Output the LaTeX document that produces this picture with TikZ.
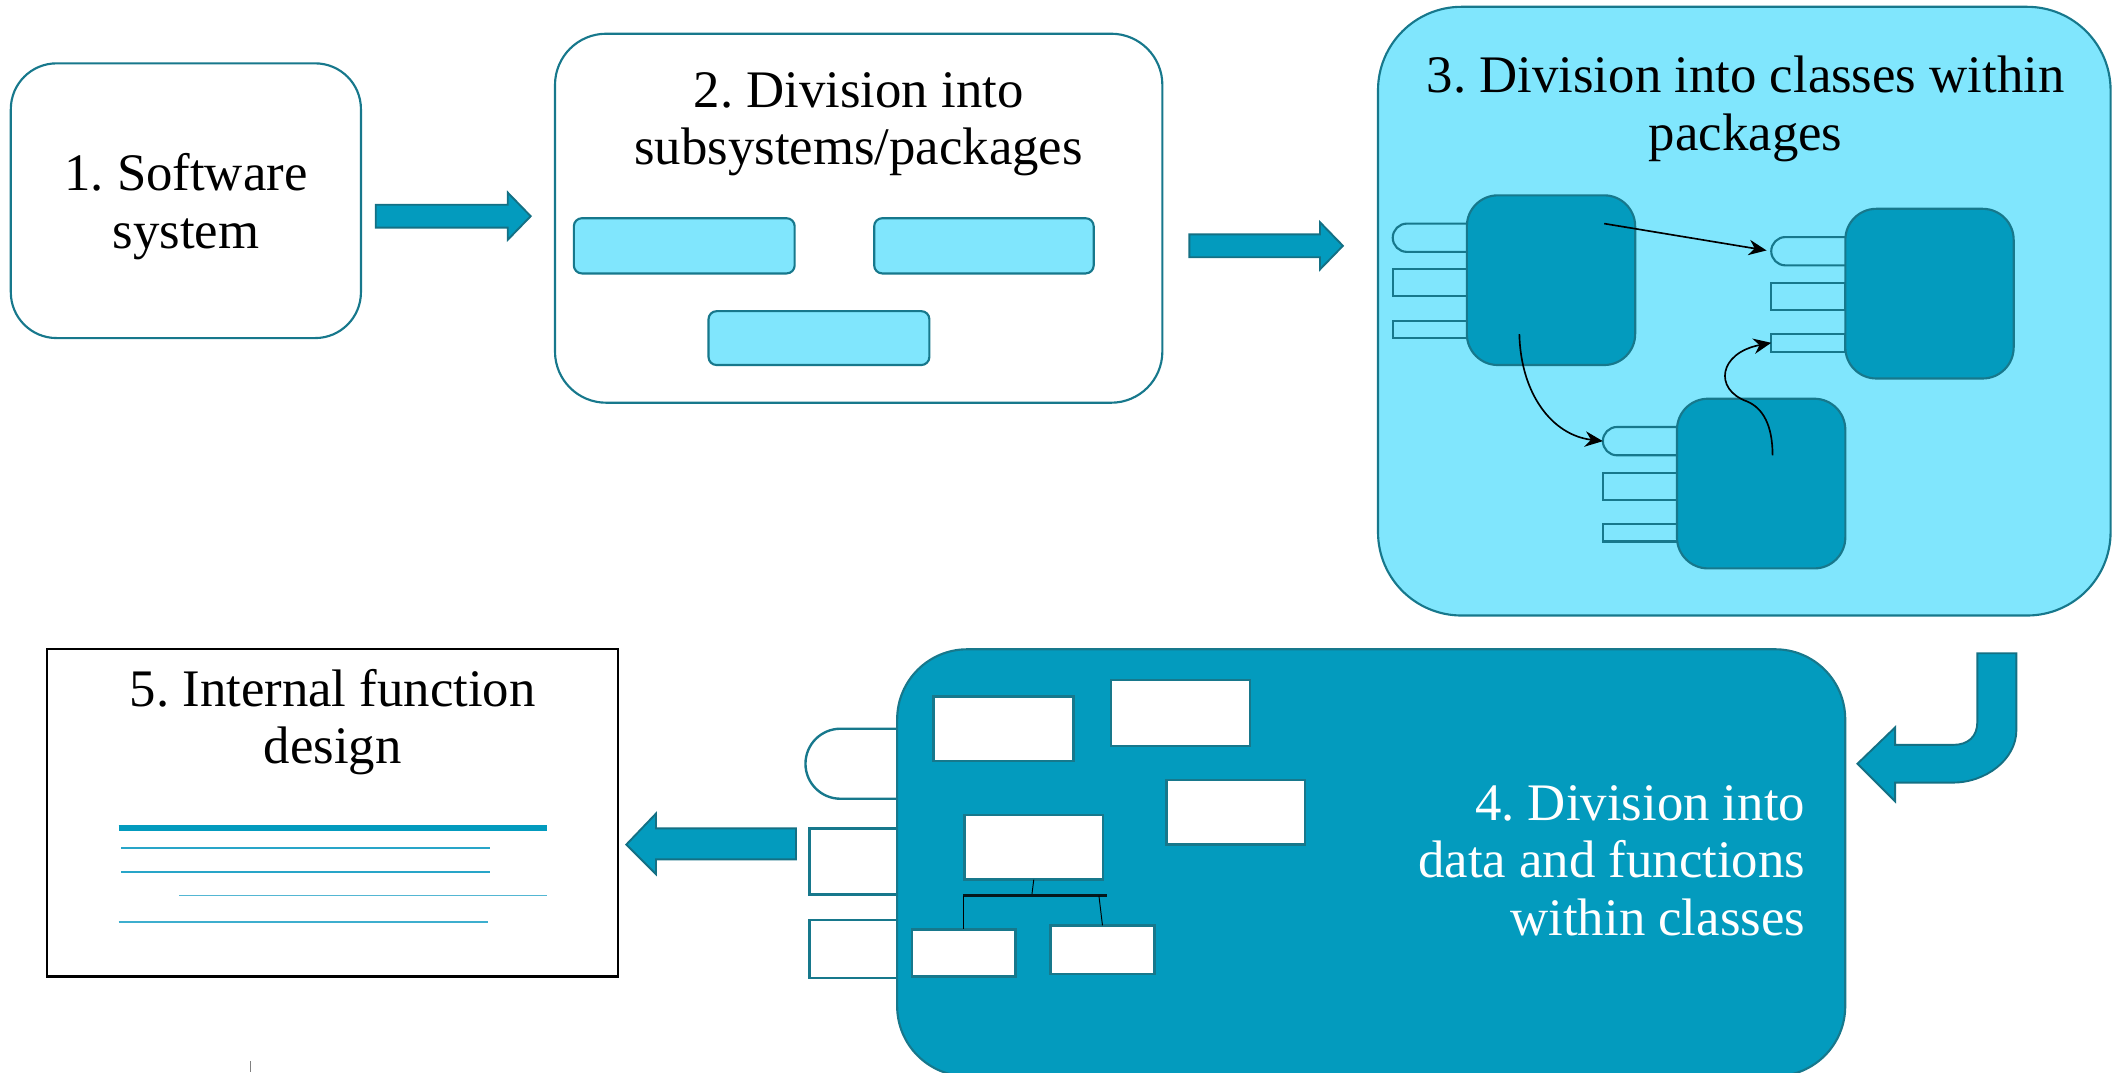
\documentclass[tikz,border=0pt]{standalone}
\usepackage{fontspec}
\setmainfont{Liberation Serif}
\usetikzlibrary{arrows.meta}
\definecolor{tealline}{RGB}{23,120,140}
\definecolor{tealfill}{RGB}{3,155,190}
\definecolor{arrowline}{RGB}{20,112,132}
\definecolor{lightfill}{RGB}{128,230,253}
\definecolor{rulecol}{RGB}{40,165,200}
% port with a round left end: [style](left,top)(right,bottom){radius}
\def\porttab[#1](#2,#3)(#4,#5)#6{\draw[#1, rounded corners=#6] (#4,#3) -- (#2,#3) -- (#2,#5) -- (#4,#5);}
\tikzset{
	box/.style={draw=tealline, line width=0.9pt, rounded corners=#1, inner sep=0pt, outer sep=0pt},
	box/.default=0.7cm,
	heading/.style={font=\fontsize{22.3}{24.2}\selectfont, align=center, inner sep=0pt},
	pkg/.style={draw=tealline, fill=lightfill, line width=0.9pt, rounded corners=0.12cm, inner sep=0pt, minimum height=0.82cm},
	cls/.style={draw=tealline, fill=tealfill, line width=0.9pt, rounded corners=0.46cm, inner sep=0pt, outer sep=0pt, minimum width=2.5cm, minimum height=2.52cm},
	port/.style={draw=tealline, line width=0.9pt},
	member/.style={draw=tealline, fill=white, line width=1pt, inner sep=0pt, outer sep=0pt},
	fatarrow/.style={fill=tealfill, draw=arrowline, line width=0.8pt, line join=miter},
	link/.style={-{Stealth[length=7.5pt,width=6.5pt]}, line width=0.7pt, black}
}
\frenchspacing
\begin{document}
\begin{tikzpicture}[x=0.02cm, y=-0.02cm]
			%%%%% START %%%%%
			\useasboundingbox (0,0) rectangle (1568,796);
			
			% 1. whole system
			\node[box=0.68cm, fill=white, minimum width=5.2cm, minimum height=4.08cm] (system) at (138,149) {};
			\node[heading] (systemtext) at (138,153.3) {1. Software\\system};
			
			\draw[fatarrow] (279,152) -- (377,152) -- (377,143) -- (394,160.5) -- (377,178) -- (377,169) -- (279,169) -- cycle;
			
			% 2. packages
			\node[box=0.76cm, fill=white, minimum width=9.02cm, minimum height=5.48cm] (packages) at (637.5,162) {};
			\node[heading] (packagestext) at (637.5,92.3) {2. Division into\\subsystems/packages};
			\node[pkg, minimum width=3.28cm] (pkgA) at (508,182.5) {};
			\node[pkg, minimum width=3.26cm] (pkgB) at (730.5,182.5) {};
			\node[pkg, minimum width=3.28cm, minimum height=0.8cm] (pkgC) at (608,251) {};
			
			\draw[fatarrow] (883,174) -- (980,174) -- (980,165) -- (997,182.5) -- (980,200) -- (980,191) -- (883,191) -- cycle;
			
			% 3. classes
			\node[box=1.24cm, fill=lightfill, minimum width=10.88cm, minimum height=9.04cm] (classes) at (1295,231) {};
			\node[heading] (classestext) at (1296,80.8) {3. Division into classes within\\packages};
			\foreach \cx/\cy/\nm in {1089/145/A, 1370/155/B, 1245/296/C}{
				\porttab[port, fill=lightfill](\cx-55,\cy+21)(\cx,\cy+42){0.21cm}
				\draw[port, fill=lightfill] (\cx-55,\cy+55) rectangle (\cx,\cy+75);
				\draw[port, fill=lightfill] (\cx-55,\cy+93) rectangle (\cx,\cy+106);
				\node[cls] (cls\nm) at (\cx+62.5,\cy+63) {};
				\coordinate (tab\nm) at (\cx-55,\cy+31.5);
				\coordinate (low\nm) at (\cx-55,\cy+99.5);
			}
			\coordinate (fromA) at (1191,166);
			\coordinate (downA) at (1128,248);
			\coordinate (upC) at (1316,338);
			\draw[link, shorten >=2pt] (fromA) -- (tabB);
			\draw[link] (downA) .. controls (1129,292) and (1152,323) .. (tabC);
			\draw[link] (upC) .. controls (1316,316) and (1309,303) .. (1297,298) .. controls (1272,289) and (1276,262) .. (lowB);
			
			% bent arrow 3 -> 4
			\draw[fatarrow] (1468,485) -- (1497,485) -- (1497,542) .. controls (1497,564) and (1474,581) .. (1450,581) -- (1407,581) -- (1407,595) -- (1379,567) -- (1407,540) -- (1407,553) -- (1450,553) .. controls (1461,553) and (1468,547) .. (1468,536) -- cycle;
			
			% 4. data and functions
			\porttab[port, line width=1pt, fill=white](598,541)(666,593){0.52cm}
			\draw[port, line width=1pt, fill=white] (601,615) rectangle (666,664);
			\draw[port, line width=1pt, fill=white] (601,683) rectangle (666,726);
			\node[box=1.04cm, fill=tealfill, minimum width=14.08cm, minimum height=6.34cm] (members) at (1018,640.5) {};
			\node[member, minimum width=2.08cm, minimum height=0.96cm] (dataA) at (745,541) {};
			\node[member, minimum width=2.06cm, minimum height=0.98cm] (dataB) at (876.5,529.5) {};
			\node[member, minimum width=2.06cm, minimum height=0.96cm] (dataC) at (917.5,603) {};
			\node[member, minimum width=2.06cm, minimum height=0.96cm] (func) at (767.5,629) {};
			\node[member, minimum width=1.54cm, minimum height=0.70cm] (subL) at (715.5,707.5) {};
			\node[member, minimum width=1.54cm, minimum height=0.72cm] (subR) at (818.5,705) {};
			\coordinate (bar) at (766,665);
			\draw[line width=0.4pt] (func.south) -- (bar);
			\draw[line width=1.1pt, color=black!80!tealline] ([xshift=-0.3pt]subL.north |- bar) -- ([xshift=2pt]subR.north |- bar);
			\draw[line width=0.4pt] (subL.north |- bar) -- (subL.north);
			\draw[line width=0.4pt] ([xshift=-1.5pt]subR.north |- bar) -- (subR.north);
			\node[heading, text=white, align=right, anchor=east] (memberstext) at (1340.5,639) {4. Division into\\data and functions\\within classes};
			
			\draw[fatarrow] (591,615) -- (487,615) -- (487,604) -- (465,627) -- (487,649) -- (487,638) -- (591,638) -- cycle;
			
			% 5. function design
			\node[draw=black, line width=1pt, fill=white, inner sep=0pt, minimum width=8.48cm, minimum height=4.86cm] (design) at (247,603.5) {};
			\node[heading] (designtext) at (247,536.3) {5. Internal function\\design};
			\draw[tealfill, line width=2.6pt] (88,615) -- (406,615);
			\draw[rulecol, line width=0.6pt] (90,629.5) -- (364,629.5);
			\draw[rulecol, line width=0.6pt] (90,647.5) -- (364,647.5);
			\draw[rulecol!80, line width=0.6pt] (133,665) -- (406,665);
			\draw[rulecol!90, line width=0.6pt] (88,684.5) -- (362,684.5);
			
			\draw[gray, line width=0.6pt] (186,788) -- (186,796);
			%%%%% END %%%%%
\end{tikzpicture}
\end{document}
